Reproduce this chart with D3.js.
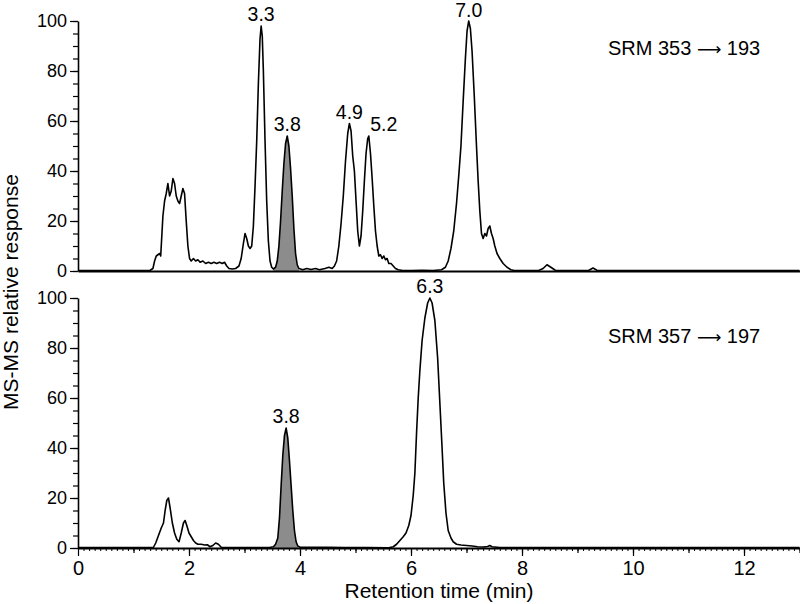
<!DOCTYPE html>
<html>
<head>
<meta charset="utf-8">
<script src="https://cdn.jsdelivr.net/npm/d3@7"></script>
<style>
  html, body { margin: 0; padding: 0; background: #fff; }
  svg { display: block; font-family: "Liberation Sans", Arial, sans-serif; }
</style>
</head>
<body>
<svg id="chart" width="800" height="604"></svg>
<script>
// ---------- DATA ----------
// SRM 353 -> 193 (top trace)
const topTime = [0, 0.5, 1.0, 1.30, 1.35, 1.38, 1.41, 1.44, 1.47, 1.49, 1.51, 1.53, 1.56, 1.59, 1.62, 1.65, 1.68, 1.71, 1.74, 1.77, 1.80, 1.83, 1.86, 1.89, 1.92, 1.95, 1.98, 2.01, 2.04, 2.08, 2.12, 2.16, 2.20, 2.25, 2.30, 2.35, 2.40, 2.45, 2.50, 2.55, 2.60, 2.64, 2.68, 2.72, 2.78, 2.84, 2.90, 2.94, 2.98, 3.01, 3.04, 3.07, 3.10, 3.13, 3.16, 3.19, 3.22, 3.25, 3.28, 3.30, 3.32, 3.34, 3.37, 3.40, 3.43, 3.46, 3.49, 3.52, 3.56, 3.59, 3.62, 3.65, 3.68, 3.71, 3.74, 3.77, 3.80, 3.83, 3.86, 3.89, 3.92, 3.95, 3.98, 4.05, 4.12, 4.20, 4.28, 4.35, 4.45, 4.52, 4.58, 4.62, 4.66, 4.70, 4.74, 4.78, 4.82, 4.86, 4.89, 4.92, 4.95, 4.98, 5.01, 5.04, 5.07, 5.10, 5.13, 5.16, 5.19, 5.22, 5.24, 5.27, 5.30, 5.33, 5.36, 5.39, 5.42, 5.45, 5.48, 5.51, 5.54, 5.57, 5.60, 5.64, 5.68, 5.72, 5.77, 5.85, 6.0, 6.2, 6.4, 6.55, 6.62, 6.67, 6.72, 6.77, 6.82, 6.86, 6.90, 6.94, 6.98, 7.01, 7.04, 7.07, 7.10, 7.14, 7.18, 7.21, 7.24, 7.27, 7.30, 7.33, 7.36, 7.39, 7.42, 7.45, 7.48, 7.51, 7.55, 7.60, 7.66, 7.73, 7.80, 7.86, 8.30, 8.38, 8.45, 8.52, 8.60, 9.20, 9.28, 9.35, 9.45, 10, 11, 12, 13];
const topResp = [0.2, 0.2, 0.2, 0.3, 1, 4, 6, 6.5, 7, 6, 14, 22, 28, 31, 35, 30, 32, 37, 35, 30, 28, 27, 30, 33, 31, 20, 10, 5, 4, 5, 4, 4.5, 3.5, 4, 3, 3.5, 3, 3.5, 3, 3.5, 3, 3.5, 2, 1, 0.8, 1, 2, 5, 11, 15, 13, 10, 9, 10, 18, 34, 52, 75, 93, 98, 94, 80, 52, 28, 12, 4, 1.5, 0.8, 1.5, 4, 10, 20, 32, 43, 51, 54, 50, 41, 30, 17, 7, 2.5, 1, 0.5, 1, 0.6, 1, 0.5, 1, 1.5, 1, 2, 4, 10, 19, 30, 44, 55, 59, 56, 46, 40, 28, 16, 10, 14, 24, 36, 47, 53, 54, 47, 37, 26, 16, 10, 6, 6.5, 5, 6, 4.5, 5, 3, 3, 2, 1, 0.5, 0.2, 0.2, 0.3, 0.2, 0.5, 1.5, 4, 9, 16, 27, 38, 50, 68, 85, 96, 100, 97, 88, 70, 50, 36, 24, 15, 13, 15, 14, 17, 18, 15, 13, 10, 7, 5, 3, 1.5, 0.5, 0.2, 0.2, 1, 2.5, 1.5, 0.3, 0.2, 1.2, 0.3, 0.2, 0.2, 0.2, 0.2, 0.2];

// SRM 357 -> 197 (bottom trace)
const bottomTime = [0, 1.0, 1.36, 1.40, 1.45, 1.50, 1.54, 1.57, 1.60, 1.63, 1.66, 1.70, 1.74, 1.78, 1.82, 1.86, 1.90, 1.93, 1.96, 2.00, 2.04, 2.08, 2.12, 2.16, 2.22, 2.28, 2.33, 2.38, 2.43, 2.48, 2.53, 2.58, 2.70, 3.0, 3.3, 3.45, 3.52, 3.56, 3.60, 3.63, 3.66, 3.69, 3.72, 3.75, 3.78, 3.81, 3.84, 3.87, 3.90, 3.93, 3.96, 4.0, 4.5, 4.8, 5.2, 5.6, 5.68, 5.74, 5.80, 5.86, 5.91, 5.96, 6.00, 6.04, 6.07, 6.10, 6.13, 6.16, 6.20, 6.25, 6.30, 6.34, 6.38, 6.43, 6.48, 6.52, 6.56, 6.59, 6.63, 6.67, 6.72, 6.76, 6.82, 6.90, 7.00, 7.10, 7.20, 7.30, 7.38, 7.42, 7.46, 7.60, 7.80, 9.0, 11.0, 13];
const bottomResp = [0.2, 0.2, 0.3, 2, 5, 8, 10, 15, 19, 20, 16, 10, 6, 3.5, 2.5, 6, 10, 11, 9, 6, 4.5, 3, 2, 1.5, 1.5, 1.2, 1.3, 0.5, 1, 2, 1.5, 0.3, 0.2, 0.2, 0.2, 0.2, 0.5, 1.5, 4, 12, 25, 37, 45, 48, 44, 35, 25, 15, 7, 2.5, 0.8, 0.3, 0.3, 0.2, 0.2, 0.1, 0.5, 1.5, 3, 4.5, 6, 9, 13, 21, 30, 46, 60, 71, 83, 92, 98, 100, 98, 91, 76, 58, 40, 26, 14, 7, 4, 2.5, 1.5, 1.2, 1, 0.8, 0.5, 0.4, 0.6, 1, 0.5, 0.2, 0.2, 0.2, 0.2, 0.2];

// Shaded (grey) peak ranges, in minutes
const topShade = [3.52, 3.98];
const bottomShade = [3.52, 3.98];

// Peak annotations
const topPeakLabels = ["3.3", "3.8", "4.9", "5.2", "7.0"];
const topPeakTimes = [3.30, 3.77, 4.89, 5.24, 7.04];
const topPeakHeights = [98, 54, 59, 54, 100];
const bottomPeakLabels = ["3.8", "6.3"];
const bottomPeakTimes = [3.75, 6.34];
const bottomPeakHeights = [48, 100];

// Transition labels
const topTransition = ["SRM 353 ", "\u27F6", " 193"];
const bottomTransition = ["SRM 357 ", "\u27F6", " 197"];

// Axis ticks
const yTickValues = [0, 20, 40, 60, 80, 100];
const xTickValues = [0, 2, 4, 6, 8, 10, 12];
const xDomain = [0, 13];
const yDomain = [0, 100];

// ---------- DRAW ----------
const svg = d3.select("#chart");
const font = '"Liberation Sans", Arial, sans-serif';

const x = d3.scaleLinear().domain(xDomain).range([78, 799.5]);

const panels = [
  { time: topTime, resp: topResp, shade: topShade, labels: topPeakLabels, pt: topPeakTimes, ph: topPeakHeights,
    title: topTransition, y: d3.scaleLinear().domain(yDomain).range([271, 21]), titleY: 55, bottomAxis: false },
  { time: bottomTime, resp: bottomResp, shade: bottomShade, labels: bottomPeakLabels, pt: bottomPeakTimes, ph: bottomPeakHeights,
    title: bottomTransition, y: d3.scaleLinear().domain(yDomain).range([548, 298]), titleY: 343, bottomAxis: true }
];

panels.forEach(p => {
  const y = p.y;
  const pts = p.time.map((t, i) => ({ t, v: p.resp[i] }));
  const g = svg.append("g");

  // shaded peak
  const shadePts = pts.filter(d => d.t >= p.shade[0] && d.t <= p.shade[1]);
  g.append("path")
    .datum(shadePts)
    .attr("fill", "#8c8c8c")
    .attr("d", d3.area().x(d => x(d.t)).y0(y(0)).y1(d => y(d.v)));

  // trace
  g.append("path")
    .datum(pts)
    .attr("fill", "none")
    .attr("stroke", "#000")
    .attr("stroke-width", 1.6)
    .attr("stroke-linejoin", "round")
    .attr("d", d3.line().x(d => x(d.t)).y(d => y(d.v)));

  // y minor ticks
  g.append("g")
    .attr("transform", "translate(78,0)")
    .call(d3.axisLeft(y).tickValues(d3.range(0, 101, 5)).tickSize(5).tickFormat("").tickSizeOuter(0))
    .call(a => a.select(".domain").remove())
    .call(a => a.selectAll("line").attr("stroke", "#000").attr("stroke-width", 1.2));
  // y major ticks
  g.append("g")
    .attr("transform", "translate(78,0)")
    .call(d3.axisLeft(y).tickValues(yTickValues).tickSize(8).tickPadding(3).tickSizeOuter(0))
    .call(a => a.select(".domain").attr("stroke", "#000").attr("stroke-width", 1.6))
    .call(a => a.selectAll("line").attr("stroke", "#000").attr("stroke-width", 1.2))
    .call(a => a.selectAll("text").attr("font-family", font).attr("font-size", 18).attr("fill", "#000"));

  // x axis
  const xg = svg.append("g").attr("transform", `translate(0,${y(0)})`);
  if (p.bottomAxis) {
    xg.append("g")
      .call(d3.axisBottom(x).tickValues(d3.range(0, 130.5, 1).map(v => v / 10)).tickSize(3).tickFormat("").tickSizeOuter(0))
      .call(a => a.select(".domain").remove())
      .call(a => a.selectAll("line").attr("stroke", "#000").attr("stroke-width", 1));
    xg.append("g")
      .call(d3.axisBottom(x).tickValues(d3.range(1, 14, 1)).tickSize(5).tickFormat("").tickSizeOuter(0))
      .call(a => a.select(".domain").remove())
      .call(a => a.selectAll("line").attr("stroke", "#000").attr("stroke-width", 1.2));
    xg.append("g")
      .call(d3.axisBottom(x).tickValues(xTickValues).tickSize(8).tickPadding(5).tickSizeOuter(0).tickFormat(d3.format("d")))
      .call(a => a.select(".domain").attr("stroke", "#000").attr("stroke-width", 2))
      .call(a => a.selectAll("line").attr("stroke", "#000").attr("stroke-width", 1.2))
      .call(a => a.selectAll("text").attr("font-family", font).attr("font-size", 20).attr("fill", "#000"));
  } else {
    xg.call(d3.axisBottom(x).tickValues([]).tickSizeOuter(0))
      .call(a => a.select(".domain").attr("stroke", "#000").attr("stroke-width", 2));
  }

  // peak labels
  g.selectAll("text.peak")
    .data(p.labels.map((l, i) => ({ l, t: p.pt[i], h: p.ph[i] })))
    .join("text")
    .attr("class", "peak")
    .attr("x", d => x(d.t) + (d.l === "5.2" ? 15 : 0))
    .attr("y", d => Math.max(y(d.h) - 5, 17))
    .attr("text-anchor", "middle")
    .attr("font-family", font)
    .attr("font-size", 19.5)
    .text(d => d.l);

  // transition label
  const tt = g.append("text")
    .attr("x", 608)
    .attr("y", p.titleY)
    .attr("font-family", font)
    .attr("font-size", 20);
  tt.append("tspan").text(p.title[0]);
  tt.append("tspan").attr("font-family", '"DejaVu Sans", sans-serif').attr("font-size", 17).text(p.title[1]);
  tt.append("tspan").text(p.title[2]);
});

// axis titles
svg.append("text")
  .attr("x", 439).attr("y", 598)
  .attr("text-anchor", "middle")
  .attr("font-family", font).attr("font-size", 21)
  .text("Retention time (min)");

svg.append("text")
  .attr("transform", "translate(18,292) rotate(-90)")
  .attr("text-anchor", "middle")
  .attr("font-family", font).attr("font-size", 21)
  .text("MS-MS relative response");
</script>
</body>
</html>
